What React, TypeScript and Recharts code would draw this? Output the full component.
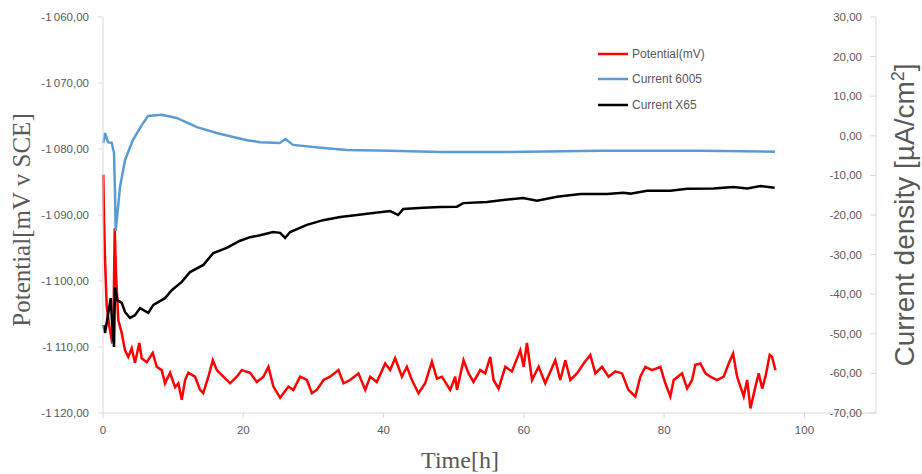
import { LineChart, Line, XAxis, YAxis, Legend } from 'recharts';

// [time h, value] pairs
const potentialSeries: [number, number][] = [
  [0.04, -1083.9], [0.14, -1090.3], [0.29, -1096.8], [0.53, -1103.9], [0.9, -1106.9], [1.24, -1108.9],
  [1.47, -1108.2], [1.67, -1092.0], [1.85, -1098.8], [2.18, -1105.9], [2.67, -1107.9], [3.14, -1110.5],
  [3.61, -1111.5], [4.09, -1110.2], [4.56, -1112.4], [5.18, -1109.4], [5.52, -1111.7], [6.23, -1112.3],
  [7.09, -1110.9], [7.66, -1113.0], [8.37, -1113.5], [8.84, -1115.5], [9.56, -1113.9], [10.27, -1116.1],
  [10.74, -1115.5], [11.23, -1118.0], [11.7, -1115.0], [12.17, -1113.9], [13.12, -1114.5], [13.84, -1116.5],
  [14.29, -1117.0], [15.02, -1114.5], [15.65, -1112.0], [16.22, -1113.5], [17.16, -1114.5], [18.12, -1115.5],
  [19.07, -1114.5], [19.79, -1113.5], [20.97, -1113.9], [21.93, -1115.3], [22.87, -1114.5], [23.58, -1113.0],
  [24.29, -1116.0], [25.25, -1117.7], [26.43, -1116.0], [27.15, -1116.5], [28.1, -1114.5], [29.06, -1115.0],
  [29.77, -1117.0], [30.49, -1116.5], [31.43, -1115.0], [32.38, -1114.5], [33.57, -1113.5], [34.28, -1115.5],
  [35.23, -1115.0], [36.42, -1114.0], [37.38, -1116.5], [38.09, -1114.5], [39.04, -1115.3], [40.23, -1112.5],
  [40.94, -1113.5], [41.65, -1111.7], [42.61, -1114.5], [43.32, -1113.0], [44.04, -1115.0], [44.98, -1117.0],
  [45.93, -1115.5], [46.89, -1112.2], [47.6, -1114.8], [48.32, -1114.5], [49.5, -1116.5], [50.21, -1114.5],
  [50.46, -1116.5], [51.4, -1112.0], [52.11, -1114.0], [52.83, -1115.3], [53.78, -1113.5], [54.49, -1114.0],
  [55.21, -1111.5], [55.68, -1115.0], [56.39, -1116.3], [57.35, -1113.0], [58.3, -1113.7], [59.49, -1110.5],
  [59.96, -1113.0], [60.44, -1109.4], [61.16, -1115.0], [62.1, -1113.0], [63.05, -1115.5], [64.48, -1112.0],
  [65.19, -1115.0], [65.91, -1112.0], [66.62, -1115.0], [67.57, -1114.0], [68.52, -1112.5], [69.47, -1111.2],
  [70.19, -1114.0], [71.14, -1113.0], [72.08, -1114.5], [73.04, -1113.7], [73.99, -1114.0], [74.9, -1116.5],
  [75.89, -1117.5], [76.6, -1114.5], [77.32, -1113.0], [78.27, -1113.5], [79.46, -1113.0], [80.17, -1115.5],
  [80.88, -1117.5], [81.36, -1115.0], [82.55, -1114.0], [83.27, -1116.3], [83.98, -1115.0], [84.45, -1112.7],
  [85.16, -1112.5], [85.88, -1114.0], [86.59, -1114.5], [87.55, -1115.0], [88.49, -1114.5], [89.2, -1112.5],
  [89.83, -1111.0], [90.4, -1114.5], [91.34, -1117.5], [91.83, -1115.0], [92.3, -1119.3], [93.01, -1116.0],
  [93.48, -1114.0], [93.97, -1116.3], [94.44, -1114.5], [95.05, -1111.2], [95.39, -1111.5], [95.86, -1113.5],
];

const current6005Series: [number, number][] = [
  [0.04, -1.8], [0.29, 0.7], [0.71, -1.6], [1.24, -1.8], [1.57, -4.3], [1.71, -14.4], [1.81, -24.0],
  [2.43, -12.9], [3.14, -6.1], [4.28, -1.0], [5.52, 2.7], [6.42, 5.0], [8.37, 5.3], [10.5, 4.5],
  [13.4, 2.2], [16.2, 0.7], [20.5, -1.1], [22.4, -1.6], [25.2, -1.8], [26.0, -0.8], [27.1, -2.3],
  [31.4, -3.1], [34.8, -3.6], [40.9, -3.8], [48.1, -4.1], [56.6, -4.1], [70.9, -3.8], [85.2, -3.8],
  [95.8, -4.0],
];

const currentX65Series: [number, number][] = [
  [0.04, -47.8], [0.29, -49.8], [0.76, -44.7], [1.1, -41.0], [1.38, -49.8], [1.57, -53.3], [1.71, -38.2],
  [2.04, -41.5], [2.67, -42.2], [3.14, -44.5], [3.85, -46.0], [4.56, -45.3], [5.28, -43.5], [6.46, -44.7],
  [7.18, -42.7], [8.84, -41.0], [9.8, -39.0], [11.23, -36.9], [12.41, -34.4], [14.31, -32.6], [15.73, -29.6],
  [17.65, -28.3], [19.54, -26.5], [20.97, -25.6], [22.4, -25.1], [24.25, -24.3], [25.25, -24.5], [25.96, -25.8],
  [26.68, -24.3], [29.06, -22.5], [31.38, -21.3], [33.81, -20.5], [36.19, -20.0], [38.52, -19.5], [40.94, -19.0],
  [42.08, -20.0], [42.8, -18.5], [45.65, -18.2], [48.07, -18.0], [50.46, -17.9], [51.35, -17.0], [54.74, -16.7],
  [57.06, -16.2], [59.91, -15.7], [61.87, -16.4], [64.72, -15.4], [68.05, -14.7], [71.85, -14.7], [74.18, -14.4],
  [75.18, -14.6], [77.56, -13.9], [80.88, -13.9], [83.27, -13.4], [87.02, -13.3], [89.87, -12.9], [91.83, -13.3],
  [93.72, -12.7], [95.76, -13.1],
];

const timeTicks = [0, 20, 40, 60, 80, 100];
const potentialTicks = [-1120, -1110, -1100, -1090, -1080, -1070, -1060];
const currentTicks = [-70, -60, -50, -40, -30, -20, -10, 0, 10, 20, 30];

const legendItems = [
  { name: 'Potential(mV)', color: '#ff0000' },
  { name: 'Current 6005', color: '#5b9bd5' },
  { name: 'Current X65', color: '#000000' },
];

const toPoints = (s: [number, number][]) => s.map(([t, v]) => ({ t, v }));

const GRAY = '#595959';
const AXIS = '#d9d9d9';
const tickStyle = { fontSize: 11.5, fill: GRAY, fontFamily: 'Liberation Sans, Arial, sans-serif' };

function fmt(v: number) {
  const [i, d] = Math.abs(v).toFixed(2).split('.');
  const grouped = i.replace(/\B(?=(\d{3})+(?!\d))/g, '\u2009');
  return (v < 0 ? '-' : '') + grouped + ',' + d;
}

const TimeTitle = () => (
  <text x={460} y={460} textAnchor="middle" dominantBaseline="central"
    style={{ fontFamily: 'Liberation Serif, serif', fontSize: 24, fill: GRAY }}>
    Time[h]
  </text>
);

const PotentialTitle = () => (
  <text x={21} y={220} textAnchor="middle" dominantBaseline="central" transform="rotate(-90, 21, 220)"
    style={{ fontFamily: 'Liberation Serif, serif', fontSize: 25, fill: GRAY }}>
    Potential[mV v SCE]
  </text>
);

const CurrentTitle = () => (
  <text x={914} y={215} textAnchor="middle" transform="rotate(-90, 914, 215)"
    style={{ fontFamily: 'Liberation Sans, Arial, sans-serif', fontSize: 28, fill: GRAY }}>
    Current density [µA/cm<tspan baselineShift="super" fontSize={18}>2</tspan>]
  </text>
);

const renderLegend = () => (
  <div style={{ fontFamily: 'Liberation Sans, Arial, sans-serif', fontSize: 12, color: GRAY }}>
    {legendItems.map((it) => (
      <div key={it.name} style={{ display: 'flex', alignItems: 'center', height: 25.5 }}>
        <svg width={34} height={6}>
          <line x1={0} y1={3} x2={30} y2={3} stroke={it.color} strokeWidth={2.5} />
        </svg>
        <span>{it.name}</span>
      </div>
    ))}
  </div>
);

export default function App() {
  return (
    <div style={{ position: 'absolute', left: 0, top: 0, width: 922, height: 474, background: '#fff' }}>
      <LineChart width={922} height={474} margin={{ top: 17, right: 46, bottom: 21, left: 0 }}>
        <XAxis
          type="number"
          dataKey="t"
          domain={[0, 110.2]}
          ticks={timeTicks}
          height={40}
          tick={tickStyle}
          tickSize={5}
          tickMargin={8}
          stroke={AXIS}
          label={<TimeTitle />}
        />
        <YAxis
          yAxisId="left"
          domain={[-1120, -1060]}
          ticks={potentialTicks}
          width={103}
          tick={tickStyle}
          tickSize={5}
          tickMargin={9}
          tickFormatter={fmt}
          stroke={AXIS}
          label={<PotentialTitle />}
        />
        <YAxis
          yAxisId="right"
          orientation="right"
          mirror
          domain={[-70, 30]}
          ticks={currentTicks}
          width={46}
          tick={tickStyle}
          tickSize={6}
          tickMargin={8}
          tickFormatter={fmt}
          stroke={AXIS}
          label={<CurrentTitle />}
        />
        <Legend
          layout="vertical"
          align="center"
          verticalAlign="middle"
          content={renderLegend}
          wrapperStyle={{ position: 'absolute', left: 598, top: 41, width: 160 }}
        />
        <Line yAxisId="left" data={toPoints(potentialSeries)} dataKey="v" name="Potential(mV)"
          stroke="#ff0000" strokeWidth={2.5} dot={false} isAnimationActive={false} />
        <Line yAxisId="right" data={toPoints(current6005Series)} dataKey="v" name="Current 6005"
          stroke="#5b9bd5" strokeWidth={2.5} dot={false} isAnimationActive={false} />
        <Line yAxisId="right" data={toPoints(currentX65Series)} dataKey="v" name="Current X65"
          stroke="#000000" strokeWidth={2.5} dot={false} isAnimationActive={false} />
      </LineChart>
    </div>
  );
}
